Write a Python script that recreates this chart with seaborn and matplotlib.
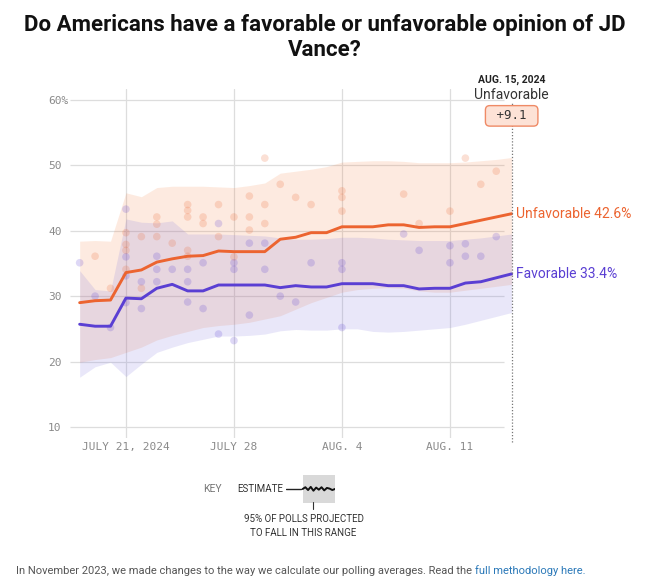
"""
Recreate: favorable / unfavorable opinion of JD Vance polling average

"""

# %%

import pandas as pd
import matplotlib

matplotlib.use("Agg")
import matplotlib.pyplot as plt
from matplotlib import font_manager
from matplotlib.lines import Line2D
import seaborn as sns

# %%
# polling averages, one value per day (Jul 18 - Aug 15, 2024)
dates = pd.date_range("2024-07-18", "2024-08-15", freq="D")

unfav_est = [29.0, 29.3, 29.4, 33.6, 34.0, 35.2, 35.7, 36.1, 36.2, 36.9,
             36.8, 36.8, 36.8, 38.7, 39.0, 39.7, 39.7, 40.6, 40.6, 40.6,
             40.9, 40.9, 40.5, 40.6, 40.6, 41.1, 41.6, 42.1, 42.6]
unfav_hi = [38.4, 38.5, 38.4, 45.8, 45.2, 46.6, 46.8, 46.8, 46.8, 46.7,
            46.6, 46.9, 47.3, 48.8, 49.1, 49.4, 49.8, 50.5, 50.6, 50.7,
            50.7, 50.6, 50.4, 50.4, 50.4, 50.5, 50.7, 50.9, 51.2]
unfav_lo = [19.9, 20.3, 20.6, 21.4, 22.2, 23.3, 24.0, 24.6, 25.2, 25.5,
            25.7, 26.0, 26.5, 27.0, 28.0, 29.0, 29.8, 30.6, 31.0, 31.2,
            31.3, 31.2, 30.8, 30.6, 30.6, 30.9, 31.2, 31.5, 31.8]

fav_est = [25.7, 25.4, 25.4, 29.7, 29.6, 31.2, 31.8, 30.8, 30.8, 31.7,
           31.7, 31.7, 31.7, 31.3, 31.6, 31.4, 31.4, 31.9, 31.9, 31.9,
           31.6, 31.6, 31.1, 31.2, 31.2, 32.0, 32.2, 32.8, 33.4]
fav_hi = [33.9, 31.0, 30.8, 41.8, 41.3, 41.2, 41.5, 39.5, 39.5, 39.5,
          39.4, 39.3, 39.2, 38.9, 38.7, 38.7, 38.8, 39.0, 39.0, 38.9,
          38.7, 38.6, 38.5, 38.5, 38.5, 38.7, 38.9, 39.2, 39.5]
fav_lo = [17.6, 19.2, 19.9, 17.7, 19.6, 21.4, 22.2, 22.9, 23.4, 23.9,
          23.9, 24.0, 24.2, 24.7, 24.9, 24.8, 24.8, 25.0, 25.0, 24.6,
          24.5, 24.6, 24.8, 25.0, 25.2, 25.7, 26.3, 26.9, 27.5]

lead_margin = 9.1  # unfavorable lead shown in the box on Aug 15

# individual polls
unfav_poll_date = ["2024-07-19", "2024-07-20",
                   "2024-07-21", "2024-07-21", "2024-07-21", "2024-07-21",
                   "2024-07-22", "2024-07-22",
                   "2024-07-23", "2024-07-23", "2024-07-23",
                   "2024-07-24",
                   "2024-07-25", "2024-07-25", "2024-07-25", "2024-07-25", "2024-07-25",
                   "2024-07-26", "2024-07-26",
                   "2024-07-27", "2024-07-27",
                   "2024-07-28", "2024-07-28",
                   "2024-07-29", "2024-07-29", "2024-07-29",
                   "2024-07-30", "2024-07-30", "2024-07-30",
                   "2024-07-31", "2024-08-01", "2024-08-02",
                   "2024-08-04", "2024-08-04", "2024-08-04",
                   "2024-08-08", "2024-08-09", "2024-08-11",
                   "2024-08-12", "2024-08-13", "2024-08-14"]
unfav_poll_val = [36.1, 31.2,
                  39.7, 37.9, 37.0, 34.1,
                  39.1, 31.2,
                  42.1, 41.0, 39.1,
                  38.1,
                  44.0, 43.1, 42.1, 37.0, 36.1,
                  42.1, 41.1,
                  44.0, 39.1,
                  42.1, 36.0,
                  45.3, 42.1, 40.1,
                  51.1, 44.0, 41.1,
                  47.1, 45.1, 44.0,
                  46.1, 45.1, 43.0,
                  45.6, 41.1, 43.0,
                  51.1, 47.1, 49.1]

fav_poll_date = ["2024-07-18", "2024-07-19", "2024-07-20",
                 "2024-07-21", "2024-07-21", "2024-07-21", "2024-07-21",
                 "2024-07-22", "2024-07-22",
                 "2024-07-23", "2024-07-23", "2024-07-23",
                 "2024-07-24",
                 "2024-07-25", "2024-07-25", "2024-07-25",
                 "2024-07-26", "2024-07-26",
                 "2024-07-27", "2024-07-27",
                 "2024-07-28", "2024-07-28", "2024-07-28",
                 "2024-07-29", "2024-07-29",
                 "2024-07-30", "2024-07-30",
                 "2024-07-31", "2024-08-01", "2024-08-02",
                 "2024-08-04", "2024-08-04", "2024-08-04",
                 "2024-08-08", "2024-08-09",
                 "2024-08-11", "2024-08-11",
                 "2024-08-12", "2024-08-12", "2024-08-13", "2024-08-14"]
fav_poll_val = [35.1, 30.0, 25.2,
                43.3, 36.0, 33.1, 29.0,
                32.2, 28.1,
                36.1, 34.1, 32.2,
                34.1,
                34.1, 32.2, 29.1,
                35.1, 28.1,
                41.1, 24.2,
                35.1, 34.1, 23.2,
                38.1, 27.1,
                38.1, 34.1,
                30.0, 29.1, 35.1,
                35.1, 34.1, 25.2,
                39.5, 37.0,
                37.7, 35.1,
                38.0, 36.1, 36.1, 39.1]

y_ticks = [10, 20, 30, 40, 50, 60]
y_tick_labels = ["10", "20", "30", "40", "50", "60%"]
x_tick_dates = pd.to_datetime(["2024-07-21", "2024-07-28", "2024-08-04", "2024-08-11"])
x_tick_labels = ["JULY 21, 2024", "JULY 28", "AUG. 4", "AUG. 11"]

key_wiggle = [0.0, 0.5, -0.3, 0.6, -0.5, 0.4, -0.2, 0.5, -0.4, 0.3, 0.1, -0.3, 0.0]

# %%
ORANGE = "#ec6430"
PURPLE = "#5a3fd3"
GRID = "#dddddd"

installed = {f.name for f in font_manager.fontManager.ttflist}
title_font = "Liberation Sans Narrow" if "Liberation Sans Narrow" in installed else "Roboto"

sns.set_theme(style="white")
plt.rcParams["font.family"] = ["Roboto", "DejaVu Sans"]

est = pd.DataFrame({"date": dates, "Unfavorable": unfav_est, "Favorable": fav_est})
est = est.melt(id_vars="date", var_name="opinion", value_name="pct")

polls = pd.concat(
    [
        pd.DataFrame({"date": pd.to_datetime(unfav_poll_date), "pct": unfav_poll_val,
                      "opinion": "Unfavorable"}),
        pd.DataFrame({"date": pd.to_datetime(fav_poll_date), "pct": fav_poll_val,
                      "opinion": "Favorable"}),
    ]
)
palette = {"Unfavorable": ORANGE, "Favorable": PURPLE}

fig = plt.figure(figsize=(6.5, 5.88), dpi=100)
ax = fig.add_axes([0.1083, 0.255, 0.686, 0.594])

day = pd.Timedelta(days=1)
x_left = dates[0] - 0.6 * day
ax.set_xlim(x_left, dates[-1] + 0.3 * day)
ax.set_ylim(8.3, 61.7)

# grid
ax.hlines(y_ticks, x_left, dates[-1] - 0.5 * day, color=GRID, lw=0.9, zorder=0)
for d in x_tick_dates:
    ax.axvline(d, color=GRID, lw=0.9, zorder=0)

# uncertainty bands
ax.fill_between(dates, unfav_lo, unfav_hi, color="#f57832", alpha=0.15, lw=0, zorder=1)
ax.fill_between(dates, fav_lo, fav_hi, color="#786ede", alpha=0.16, lw=0, zorder=1)

sns.scatterplot(data=polls, x="date", y="pct", hue="opinion", palette=palette,
                alpha=0.2, s=30, edgecolor="none", legend=False, ax=ax, zorder=2)
sns.lineplot(data=est, x="date", y="pct", hue="opinion", palette=palette,
             lw=2.1, legend=False, ax=ax, zorder=3)

for s in ax.spines.values():
    s.set_visible(False)
ax.set_xlabel("")
ax.set_ylabel("")
ax.set_xticks(x_tick_dates, x_tick_labels)
ax.set_yticks(y_ticks, y_tick_labels)
ax.tick_params(length=0, labelsize=8, labelcolor="#8a8a8a")
ax.tick_params(axis="x", pad=3)
ax.tick_params(axis="y", pad=16)
for lbl in ax.get_xticklabels() + ax.get_yticklabels():
    lbl.set_family("DejaVu Sans Mono")
for lbl in ax.get_yticklabels():
    lbl.set_ha("left")

# end-of-line labels
ax.text(dates[-1] + 0.25 * day, unfav_est[-1], f"Unfavorable {unfav_est[-1]}%",
        color=ORANGE, fontsize=10, va="center", ha="left")
ax.text(dates[-1] + 0.25 * day, fav_est[-1], f"Favorable {fav_est[-1]}%",
        color=PURPLE, fontsize=10, va="center", ha="left")

# date marker + lead box
ax.vlines(dates[-1], 7.7, 59.5, colors="#777777", linestyles=(0, (1, 1.5)),
          lw=0.9, clip_on=False, zorder=4)
ax.text(dates[-1], 63.05, "AUG. 15, 2024", ha="center", va="center",
        fontsize=7.5, fontweight="bold", color="#222222", clip_on=False)
ax.text(dates[-1], 60.76, "Unfavorable", ha="center", va="center",
        fontsize=10, color="#333333", clip_on=False)
ax.text(dates[-1], 57.56, f" +{lead_margin} ", ha="center", va="center",
        fontsize=9, family="DejaVu Sans Mono", color="#333333", clip_on=False,
        zorder=5,
        bbox=dict(boxstyle="round,pad=0.3,rounding_size=0.35", fc="#fde2d6",
                  ec="#ef8a66", lw=1))

# title
fig.text(0.5, 0.936, "Do Americans have a favorable or unfavorable opinion of JD\nVance?",
         ha="center", va="center", fontsize=16, fontweight="bold",
         family=title_font, color="#111111", linespacing=1.15)

# key
fig.text(0.312, 0.1684, "KEY", fontsize=7.5, color="#777777", va="center")
fig.text(0.3646, 0.1684, "ESTIMATE", fontsize=7, color="#333333", va="center")
kax = fig.add_axes([0.44, 0.1446, 0.0754, 0.0476])
kax.set_xlim(0, 1)
kax.set_ylim(-1, 1)
kax.axis("off")
kx = [0.34 + 0.66 * i / (len(key_wiggle) - 1) for i in range(len(key_wiggle))]
kax.fill_between(kx, -1, 1, color="#d9d9d9", lw=0)
kax.plot([0, 0.3], [0, 0], color="#222222", lw=1)
kax.plot(kx, [v * 0.25 for v in key_wiggle], color="#111111", lw=1.4)
fig.add_artist(Line2D([0.481, 0.481], [0.1465, 0.1345], transform=fig.transFigure,
                      color="#333333", lw=0.8))
fig.text(0.467, 0.1054, "95% OF POLLS PROJECTED\nTO FALL IN THIS RANGE",
         ha="center", va="center", fontsize=7, color="#333333", linespacing=1.5)

# footer
foot = fig.text(0.0246, 0.0289,
                "In November 2023, we made changes to the way we calculate our "
                "polling averages. Read the ",
                fontsize=8, color="#555555", va="center")
fig.canvas.draw()
bb = foot.get_window_extent().transformed(fig.transFigure.inverted())
fig.text(bb.x1, 0.0289, "full methodology here.", fontsize=8, color="#2a78b8",
         va="center")

fig.savefig("out.png", dpi=100)
